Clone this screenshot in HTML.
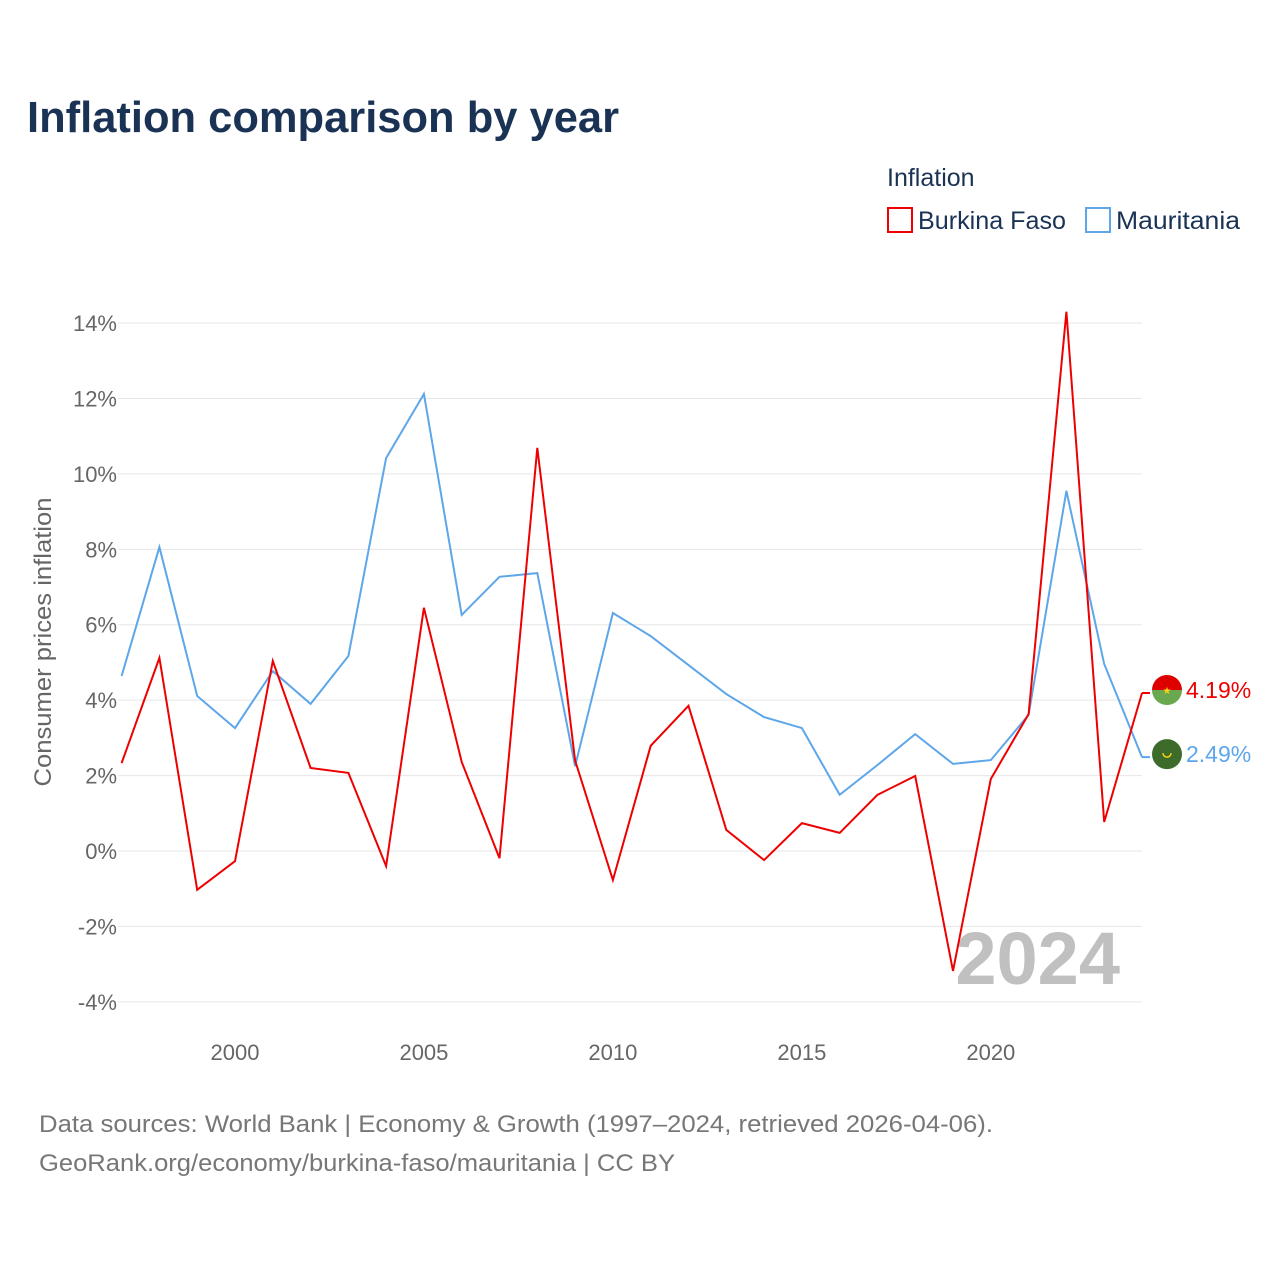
<!DOCTYPE html>
<html><head><meta charset="utf-8">
<style>
body{margin:0;background:#fff;font-family:"Liberation Sans",sans-serif;}
#wrap{position:relative;width:1280px;height:1280px;}
</style></head>
<body>
<div id="wrap">
<svg id="chart" width="1280" height="1280" xmlns="http://www.w3.org/2000/svg">
<text x="27" y="132" font-size="44" font-weight="bold" fill="#1a3355" textLength="592" lengthAdjust="spacingAndGlyphs">Inflation comparison by year</text>
<text x="887" y="186" font-size="25" fill="#1a3355">Inflation</text>
<g>
<rect x="888" y="208" width="24" height="24" fill="none" stroke="#ee0000" stroke-width="2"/>
<text x="918" y="229" font-size="25" fill="#1a3355" textLength="148" lengthAdjust="spacingAndGlyphs">Burkina Faso</text>
</g>
<g>
<rect x="1086" y="208" width="24" height="24" fill="none" stroke="#5ea6ea" stroke-width="2"/>
<text x="1116" y="229" font-size="25" fill="#1a3355" textLength="124" lengthAdjust="spacingAndGlyphs">Mauritania</text>
</g>
<text transform="translate(51,642) rotate(-90)" text-anchor="middle" font-size="24" fill="#666" textLength="289" lengthAdjust="spacingAndGlyphs">Consumer prices inflation</text>
<g id="grid"></g>
<g id="yticks"></g>
<g id="xticks"></g>
<text x="1120" y="984" text-anchor="end" font-size="74" font-weight="bold" fill="#c0c0c0">2024</text>
<g id="series"></g>
<g id="endlabels"></g>
<text x="39" y="1132" font-size="24" fill="#777" textLength="954" lengthAdjust="spacingAndGlyphs">Data sources: World Bank | Economy &amp; Growth (1997–2024, retrieved 2026-04-06).</text>
<text x="39" y="1171" font-size="24" fill="#777" textLength="636" lengthAdjust="spacingAndGlyphs">GeoRank.org/economy/burkina-faso/mauritania | CC BY</text>
</svg>
</div>
<script>
const years=[1997,1998,1999,2000,2001,2002,2003,2004,2005,2006,2007,2008,2009,2010,2011,2012,2013,2014,2015,2016,2017,2018,2019,2020,2021,2022,2023,2024];
const burkinaFaso=[2.33,5.12,-1.03,-0.27,5.04,2.2,2.07,-0.4,6.45,2.36,-0.19,10.69,2.4,-0.77,2.79,3.85,0.56,-0.24,0.74,0.48,1.49,1.99,-3.18,1.91,3.63,14.3,0.77,4.19];
const mauritania=[4.64,8.06,4.11,3.26,4.77,3.9,5.17,10.42,12.12,6.26,7.27,7.37,2.25,6.31,5.7,4.93,4.16,3.55,3.26,1.49,2.28,3.1,2.31,2.41,3.61,9.55,4.96,2.49];
const yTicks=[-4,-2,0,2,4,6,8,10,12,14];
const xTicks=[2000,2005,2010,2015,2020];
const NS="http://www.w3.org/2000/svg";
function xs(y){return 121.6+(y-1997)*(1142-121.6)/27;}
function ys(v){return 851-v*37.71;}
function mk(tag,attrs,parent){const e=document.createElementNS(NS,tag);for(const k in attrs)e.setAttribute(k,attrs[k]);document.getElementById(parent).appendChild(e);return e;}
yTicks.forEach(t=>{
 const l=mk('line',{x1:118,x2:1142,y1:ys(t),y2:ys(t),stroke:'#e6e6e6','stroke-width':1},'grid');
 
 
 const tx=mk('text',{x:117,y:ys(t)+8,'text-anchor':'end','font-size':22,fill:'#666'},'yticks');
 tx.textContent=t+'%';
 
 
});
xTicks.forEach(t=>{
 const tx=mk('text',{x:xs(t),y:1060,'text-anchor':'middle','font-size':22,fill:'#666'},'xticks');
 tx.textContent=t;
 
 
});
function line(vals,color,name){
 const d=vals.map((v,i)=>(i?'L':'M')+xs(years[i]).toFixed(1)+','+ys(v).toFixed(1)).join(' ');
 const p=mk('path',{d:d,fill:'none',stroke:color,'stroke-width':2,'stroke-linejoin':'miter'},'series');
 
 
}
line(mauritania,'#5ea6ea','line-mauritania');
line(burkinaFaso,'#ee0000','line-burkina-faso');
function endLabel(v,color,name,fl){
 const yv=ys(v);
 let ly=yv-3;
 const l=mk('path',{d:`M1142,${yv} L1150,${yv}`,stroke:color,'stroke-width':2,fill:'none'},'endlabels');
 
 
 const g=mk('g',{},'endlabels');
 
 
 g.innerHTML=fl(1167,ly);
 const t=mk('text',{x:1186,y:ly+8,'font-size':23,fill:color},'endlabels');
 t.textContent=v.toFixed(2)+'%';
 
 
}
endLabel(burkinaFaso[burkinaFaso.length-1],'#ee0000','burkina-faso',(x,y)=>`<clipPath id="c1"><circle cx="${x}" cy="${y}" r="15"/></clipPath><g clip-path="url(#c1)"><rect x="${x-15}" y="${y-15}" width="30" height="15" fill="#de0000"/><rect x="${x-15}" y="${y}" width="30" height="15" fill="#6aa84f"/></g><text x="${x}" y="${y+4}" text-anchor="middle" font-size="10" fill="#fcd116">★</text>`);
endLabel(mauritania[mauritania.length-1],'#5ea6ea','mauritania',(x,y)=>`<circle cx="${x}" cy="${y}" r="15" fill="#3d6b2a"/><path d="M${x-4},${y-1} a4,4 0 0 0 8,0" fill="none" stroke="#fcd116" stroke-width="1.5"/>`);
</script>
</body></html>
